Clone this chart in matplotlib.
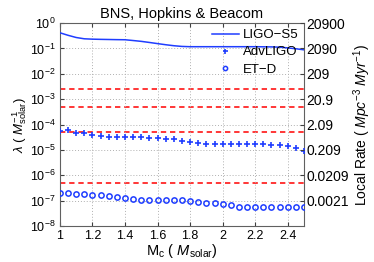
import numpy as np
import matplotlib
matplotlib.use("Agg")
import matplotlib.pyplot as plt
from matplotlib.ticker import FixedLocator, NullLocator, LogLocator

plt.rcParams['font.family'] = ['Liberation Sans', 'DejaVu Sans']
plt.rcParams['mathtext.fontset'] = 'custom'
plt.rcParams['mathtext.rm'] = 'Liberation Sans'
plt.rcParams['mathtext.it'] = 'Liberation Sans:italic'
plt.rcParams['font.size'] = 8

# chirp mass grid (M_solar)
mc = np.round(np.arange(1.0, 2.5001, 0.05), 2)

# rate per solar mass
ligo_s5 = [0.415, 0.33, 0.27, 0.24, 0.232, 0.228, 0.225, 0.222, 0.22, 0.205, 0.19,
           0.172, 0.155, 0.14, 0.128, 0.12, 0.117, 0.117, 0.117, 0.117, 0.117,
           0.117, 0.117, 0.117, 0.117, 0.116, 0.115, 0.112, 0.105, 0.097, 0.088]
adv_ligo = [5.75e-5, 6.1e-5, 4.8e-5, 4.55e-5, 4.0e-5, 3.6e-5, 3.3e-5, 3.17e-5,
            3.17e-5, 3.17e-5, 3.17e-5, 3.05e-5, 2.97e-5, 2.79e-5, 2.64e-5, 2.33e-5,
            2.06e-5, 1.82e-5, 1.72e-5, 1.72e-5, 1.7e-5, 1.7e-5, 1.7e-5, 1.7e-5,
            1.68e-5, 1.66e-5, 1.6e-5, 1.52e-5, 1.44e-5, 1.23e-5, 9.5e-6]
et_d = [1.97e-7, 1.97e-7, 1.91e-7, 1.85e-7, 1.74e-7, 1.65e-7, 1.51e-7, 1.42e-7,
        1.26e-7, 1.15e-7, 1.08e-7, 1.05e-7, 1.05e-7, 1.05e-7, 1.05e-7, 1.03e-7,
        1.0e-7, 8.9e-8, 8.5e-8, 7.9e-8, 7.2e-8, 6.6e-8, 5.9e-8, 5.7e-8, 5.7e-8,
        5.7e-8, 5.7e-8, 5.7e-8, 5.7e-8, 5.7e-8, 5.7e-8]

# horizontal reference levels
ref_levels = [2.45e-3, 5.1e-4, 5.1e-5, 5.1e-7]

# right axis: local rate labels at each decade
rate_factor = 20900
rate_labels = ['20900', '2090', '209', '20.9', '2.09', '0.209', '0.0209', '0.0021']

blue = '#1f3dff'

fig = plt.figure(figsize=(3.74, 2.62), dpi=100)
ax = fig.add_axes([0.160, 0.137, 0.653, 0.775])

for lv in ref_levels:
    ax.axhline(lv, color='#ff0000', ls=(0, (3.5, 2.5)), lw=1.1, zorder=1)

ax.plot(mc, ligo_s5, color=blue, lw=1.1, label='LIGO\u2212S5', zorder=3)
ax.plot(mc, adv_ligo, ls='none', marker='+', ms=4.5, mew=1.2, color=blue,
        label='AdvLIGO', zorder=3)
ax.plot(mc, et_d, ls='none', marker='o', ms=3.8, mew=1.1, mfc='none', mec=blue,
        label='ET\u2212D', zorder=3)

ax.set_yscale('log')
ax.set_xlim(1, 2.5)
ax.set_ylim(1e-8, 1)
ax.xaxis.set_major_locator(FixedLocator([1, 1.2, 1.4, 1.6, 1.8, 2, 2.2, 2.4]))
ax.set_xticklabels(['1', '1.2', '1.4', '1.6', '1.8', '2', '2.2', '2.4'])
ax.yaxis.set_major_locator(LogLocator(base=10, numticks=20))
ax.yaxis.set_minor_locator(NullLocator())
ax.grid(True, ls=(0, (1, 2)), color='#b0b0b0', lw=0.7)
ax.tick_params(direction='in', length=3, labelsize=9, top=True, right=False,
               pad=3, color='#404040')
for s in ax.spines.values():
    s.set_color('#606060')
    s.set_linewidth(0.8)

ax.set_title('BNS, Hopkins & Beacom', fontsize=10.5, pad=4)
ax.set_xlabel(r'M$_\mathrm{c}$ ( $M_\mathrm{solar}$)', fontsize=10.5, labelpad=0)
ax.set_ylabel(r'$\lambda$ ( $M_\mathrm{solar}^{-1}$)', fontsize=9.5, labelpad=1)

ax2 = ax.twinx()
ax2.set_yscale('log')
ax2.set_ylim(rate_factor * 1e-8, rate_factor * 1.0)
ax2.yaxis.set_major_locator(FixedLocator([rate_factor * 10.0 ** (-k) for k in range(len(rate_labels))]))
ax2.yaxis.set_minor_locator(NullLocator())
ax2.set_yticklabels(rate_labels)
ax2.tick_params(direction='in', length=3, labelsize=10, pad=1.5, color='#404040')
for s in ax2.spines.values():
    s.set_visible(False)
ax2.set_ylabel(r'Local Rate ( $Mpc^{-3}$ $Myr^{-1}$)', fontsize=10, labelpad=2)

leg = ax.legend(loc='upper right', frameon=False, fontsize=9.5, handlelength=2.0,
                handletextpad=0.3, labelspacing=0.38, borderaxespad=0.05,
                markerscale=0.8)

fig.savefig('out.png', dpi=100)
